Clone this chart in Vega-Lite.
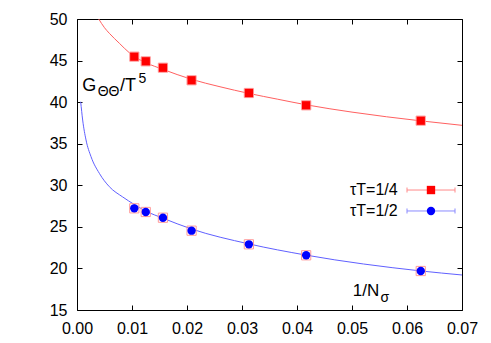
{
  "$schema": "https://vega.github.io/schema/vega-lite/v6.json",
  "width": 385,
  "height": 291,
  "autosize": {"type": "none"},
  "padding": {"left": 77, "top": 19, "right": 29, "bottom": 33},
  "background": "white",
  "config": {
    "view": {"stroke": "#000000", "strokeWidth": 1},
    "axis": {
      "grid": false, "domain": false, "title": null, "labelFlush": false, "labelOverlap": false,
      "labelFont": "Liberation Sans", "labelFontSize": 16, "labelColor": "#000000",
      "ticks": true, "tickColor": "#000000", "tickWidth": 1, "tickSize": 5, "offset": -5, "labelPadding": 10, "zindex": 1
    },
    "text": {"font": "Liberation Sans", "color": "#000000"}
  },
  "datasets": {
    "points": [
      {"x": 0.010417, "y": 45.47, "series": "τT=1/4"},
      {"x": 0.0125, "y": 44.91, "series": "τT=1/4"},
      {"x": 0.015625, "y": 44.14, "series": "τT=1/4"},
      {"x": 0.020833, "y": 42.63, "series": "τT=1/4"},
      {"x": 0.03125, "y": 41.10, "series": "τT=1/4"},
      {"x": 0.041667, "y": 39.62, "series": "τT=1/4"},
      {"x": 0.0625, "y": 37.77, "series": "τT=1/4"},
      {"x": 0.010417, "y": 27.23, "series": "τT=1/2"},
      {"x": 0.0125, "y": 26.79, "series": "τT=1/2"},
      {"x": 0.015625, "y": 26.10, "series": "τT=1/2"},
      {"x": 0.020833, "y": 24.54, "series": "τT=1/2"},
      {"x": 0.03125, "y": 22.90, "series": "τT=1/2"},
      {"x": 0.041667, "y": 21.58, "series": "τT=1/2"},
      {"x": 0.0625, "y": 19.69, "series": "τT=1/2"}
    ],
    "curves": [
      {"x": 0.00395, "y": 50.0, "series": "τT=1/4"},
      {"x": 0.0050, "y": 48.95, "series": "τT=1/4"},
      {"x": 0.00588, "y": 48.28, "series": "τT=1/4"},
      {"x": 0.0077, "y": 47.08, "series": "τT=1/4"},
      {"x": 0.0095, "y": 45.95, "series": "τT=1/4"},
      {"x": 0.0104, "y": 45.5, "series": "τT=1/4"},
      {"x": 0.0125, "y": 44.75, "series": "τT=1/4"},
      {"x": 0.0156, "y": 43.95, "series": "τT=1/4"},
      {"x": 0.0208, "y": 42.75, "series": "τT=1/4"},
      {"x": 0.026, "y": 41.85, "series": "τT=1/4"},
      {"x": 0.03125, "y": 41.05, "series": "τT=1/4"},
      {"x": 0.0365, "y": 40.35, "series": "τT=1/4"},
      {"x": 0.04167, "y": 39.68, "series": "τT=1/4"},
      {"x": 0.05, "y": 38.8, "series": "τT=1/4"},
      {"x": 0.0625, "y": 37.75, "series": "τT=1/4"},
      {"x": 0.07, "y": 37.21, "series": "τT=1/4"},
      {"x": 0.00067, "y": 40.05, "series": "τT=1/2"},
      {"x": 0.00103, "y": 37.85, "series": "τT=1/2"},
      {"x": 0.00164, "y": 35.45, "series": "τT=1/2"},
      {"x": 0.00255, "y": 33.44, "series": "τT=1/2"},
      {"x": 0.00406, "y": 31.44, "series": "τT=1/2"},
      {"x": 0.00588, "y": 29.83, "series": "τT=1/2"},
      {"x": 0.0083, "y": 28.6, "series": "τT=1/2"},
      {"x": 0.0104, "y": 27.7, "series": "τT=1/2"},
      {"x": 0.0125, "y": 26.9, "series": "τT=1/2"},
      {"x": 0.0156, "y": 26.05, "series": "τT=1/2"},
      {"x": 0.0208, "y": 24.75, "series": "τT=1/2"},
      {"x": 0.03125, "y": 22.95, "series": "τT=1/2"},
      {"x": 0.04167, "y": 21.6, "series": "τT=1/2"},
      {"x": 0.0625, "y": 19.7, "series": "τT=1/2"},
      {"x": 0.07, "y": 19.21, "series": "τT=1/2"}
    ],
    "anchor": [{}]
  },
  "layer": [
    {
      "data": {"name": "curves"},
      "mark": {"type": "line", "strokeWidth": 1, "interpolate": "monotone", "clip": true},
      "encoding": {
        "x": {"field": "x", "type": "quantitative", "scale": {"domain": [0, 0.07], "nice": false, "zero": false},
              "axis": {"orient": "top", "labels": false, "values": [0, 0.01, 0.02, 0.03, 0.04, 0.05, 0.06, 0.07]}},
        "y": {"field": "y", "type": "quantitative", "scale": {"domain": [15, 50], "nice": false, "zero": false},
              "axis": {"orient": "right", "labels": false, "values": [15, 20, 25, 30, 35, 40, 45, 50]}},
        "stroke": {"field": "series", "type": "nominal", "scale": {"domain": ["τT=1/4", "τT=1/2"], "range": ["#ff6060", "#6060ff"]}, "legend": null}
      }
    },
    {
      "data": {"name": "points"},
      "mark": {"type": "point", "shape": "square", "filled": false, "stroke": "#ff9a9a", "strokeWidth": 1, "size": 85, "opacity": 1},
      "encoding": {
        "x": {"field": "x", "type": "quantitative", "axis": null},
        "y": {"field": "y", "type": "quantitative", "axis": null}
      }
    },
    {
      "data": {"name": "points"},
      "mark": {"type": "point", "filled": true, "opacity": 1, "size": 70},
      "encoding": {
        "x": {"field": "x", "type": "quantitative",
              "axis": {"orient": "bottom", "format": ".2f", "values": [0, 0.01, 0.02, 0.03, 0.04, 0.05, 0.06, 0.07]}},
        "y": {"field": "y", "type": "quantitative",
              "axis": {"orient": "left", "format": "d", "values": [15, 20, 25, 30, 35, 40, 45, 50]}},
        "shape": {"field": "series", "type": "nominal", "scale": {"domain": ["τT=1/4", "τT=1/2"], "range": ["square", "circle"]}, "legend": null},
        "color": {"field": "series", "type": "nominal", "scale": {"domain": ["τT=1/4", "τT=1/2"], "range": ["#ff0000", "#0000ff"]}, "legend": null}
      }
    },
    {
      "data": {"name": "anchor"},
      "mark": {"type": "rule", "stroke": "#ff8a8a", "strokeWidth": 1},
      "encoding": {"x": {"datum": 0.06, "type": "quantitative", "axis": null}, "x2": {"datum": 0.06873}, "y": {"datum": 29.43, "type": "quantitative", "axis": null}}
    },
    {
      "data": {"name": "anchor"},
      "mark": {"type": "rule", "stroke": "#ff8a8a", "strokeWidth": 1},
      "encoding": {"x": {"datum": 0.06, "type": "quantitative", "axis": null}, "y": {"datum": 29.13, "type": "quantitative", "axis": null}, "y2": {"datum": 29.73}}
    },
    {
      "data": {"name": "anchor"},
      "mark": {"type": "rule", "stroke": "#ff8a8a", "strokeWidth": 1},
      "encoding": {"x": {"datum": 0.06873, "type": "quantitative", "axis": null}, "y": {"datum": 29.13, "type": "quantitative", "axis": null}, "y2": {"datum": 29.73}}
    },
    {
      "data": {"name": "anchor"},
      "mark": {"type": "point", "shape": "square", "filled": true, "color": "#ff0000", "opacity": 1, "size": 70},
      "encoding": {"x": {"datum": 0.06436, "type": "quantitative", "axis": null}, "y": {"datum": 29.43, "type": "quantitative", "axis": null}}
    },
    {
      "data": {"name": "anchor"},
      "mark": {"type": "text", "align": "right", "baseline": "middle", "fontSize": 16},
      "encoding": {"x": {"datum": 0.05831, "type": "quantitative", "axis": null}, "y": {"datum": 29.43, "type": "quantitative", "axis": null}, "text": {"value": "τT=1/4"}}
    },
    {
      "data": {"name": "anchor"},
      "mark": {"type": "rule", "stroke": "#8a8aff", "strokeWidth": 1},
      "encoding": {"x": {"datum": 0.06, "type": "quantitative", "axis": null}, "x2": {"datum": 0.06873}, "y": {"datum": 26.91, "type": "quantitative", "axis": null}}
    },
    {
      "data": {"name": "anchor"},
      "mark": {"type": "rule", "stroke": "#8a8aff", "strokeWidth": 1},
      "encoding": {"x": {"datum": 0.06, "type": "quantitative", "axis": null}, "y": {"datum": 26.61, "type": "quantitative", "axis": null}, "y2": {"datum": 27.21}}
    },
    {
      "data": {"name": "anchor"},
      "mark": {"type": "rule", "stroke": "#8a8aff", "strokeWidth": 1},
      "encoding": {"x": {"datum": 0.06873, "type": "quantitative", "axis": null}, "y": {"datum": 26.61, "type": "quantitative", "axis": null}, "y2": {"datum": 27.21}}
    },
    {
      "data": {"name": "anchor"},
      "mark": {"type": "point", "shape": "circle", "filled": true, "color": "#0000ff", "opacity": 1, "size": 70},
      "encoding": {"x": {"datum": 0.06436, "type": "quantitative", "axis": null}, "y": {"datum": 26.91, "type": "quantitative", "axis": null}}
    },
    {
      "data": {"name": "anchor"},
      "mark": {"type": "text", "align": "right", "baseline": "middle", "fontSize": 16},
      "encoding": {"x": {"datum": 0.05831, "type": "quantitative", "axis": null}, "y": {"datum": 26.91, "type": "quantitative", "axis": null}, "text": {"value": "τT=1/2"}}
    },
    {
      "data": {"name": "anchor"},
      "mark": {"type": "text", "align": "left", "baseline": "alphabetic", "fontSize": 18},
      "encoding": {"x": {"datum": 0.00096, "type": "quantitative", "axis": null}, "y": {"datum": 41.4, "type": "quantitative", "axis": null}, "text": {"value": "G"}}
    },
    {
      "data": {"name": "anchor"},
      "mark": {"type": "text", "align": "left", "baseline": "alphabetic", "fontSize": 14},
      "encoding": {"x": {"datum": 0.00376, "type": "quantitative", "axis": null}, "y": {"datum": 40.74, "type": "quantitative", "axis": null}, "text": {"value": "ΘΘ"}}
    },
    {
      "data": {"name": "anchor"},
      "mark": {"type": "text", "align": "left", "baseline": "alphabetic", "fontSize": 18},
      "encoding": {"x": {"datum": 0.00782, "type": "quantitative", "axis": null}, "y": {"datum": 41.4, "type": "quantitative", "axis": null}, "text": {"value": "/T"}}
    },
    {
      "data": {"name": "anchor"},
      "mark": {"type": "text", "align": "left", "baseline": "alphabetic", "fontSize": 14},
      "encoding": {"x": {"datum": 0.01118, "type": "quantitative", "axis": null}, "y": {"datum": 42.3, "type": "quantitative", "axis": null}, "text": {"value": "5"}}
    },
    {
      "data": {"name": "anchor"},
      "mark": {"type": "text", "align": "left", "baseline": "alphabetic", "fontSize": 17},
      "encoding": {"x": {"datum": 0.05013, "type": "quantitative", "axis": null}, "y": {"datum": 16.68, "type": "quantitative", "axis": null}, "text": {"value": "1/N"}}
    },
    {
      "data": {"name": "anchor"},
      "mark": {"type": "text", "align": "left", "baseline": "alphabetic", "fontSize": 14},
      "encoding": {"x": {"datum": 0.05518, "type": "quantitative", "axis": null}, "y": {"datum": 16.02, "type": "quantitative", "axis": null}, "text": {"value": "σ"}}
    }
  ]
}
